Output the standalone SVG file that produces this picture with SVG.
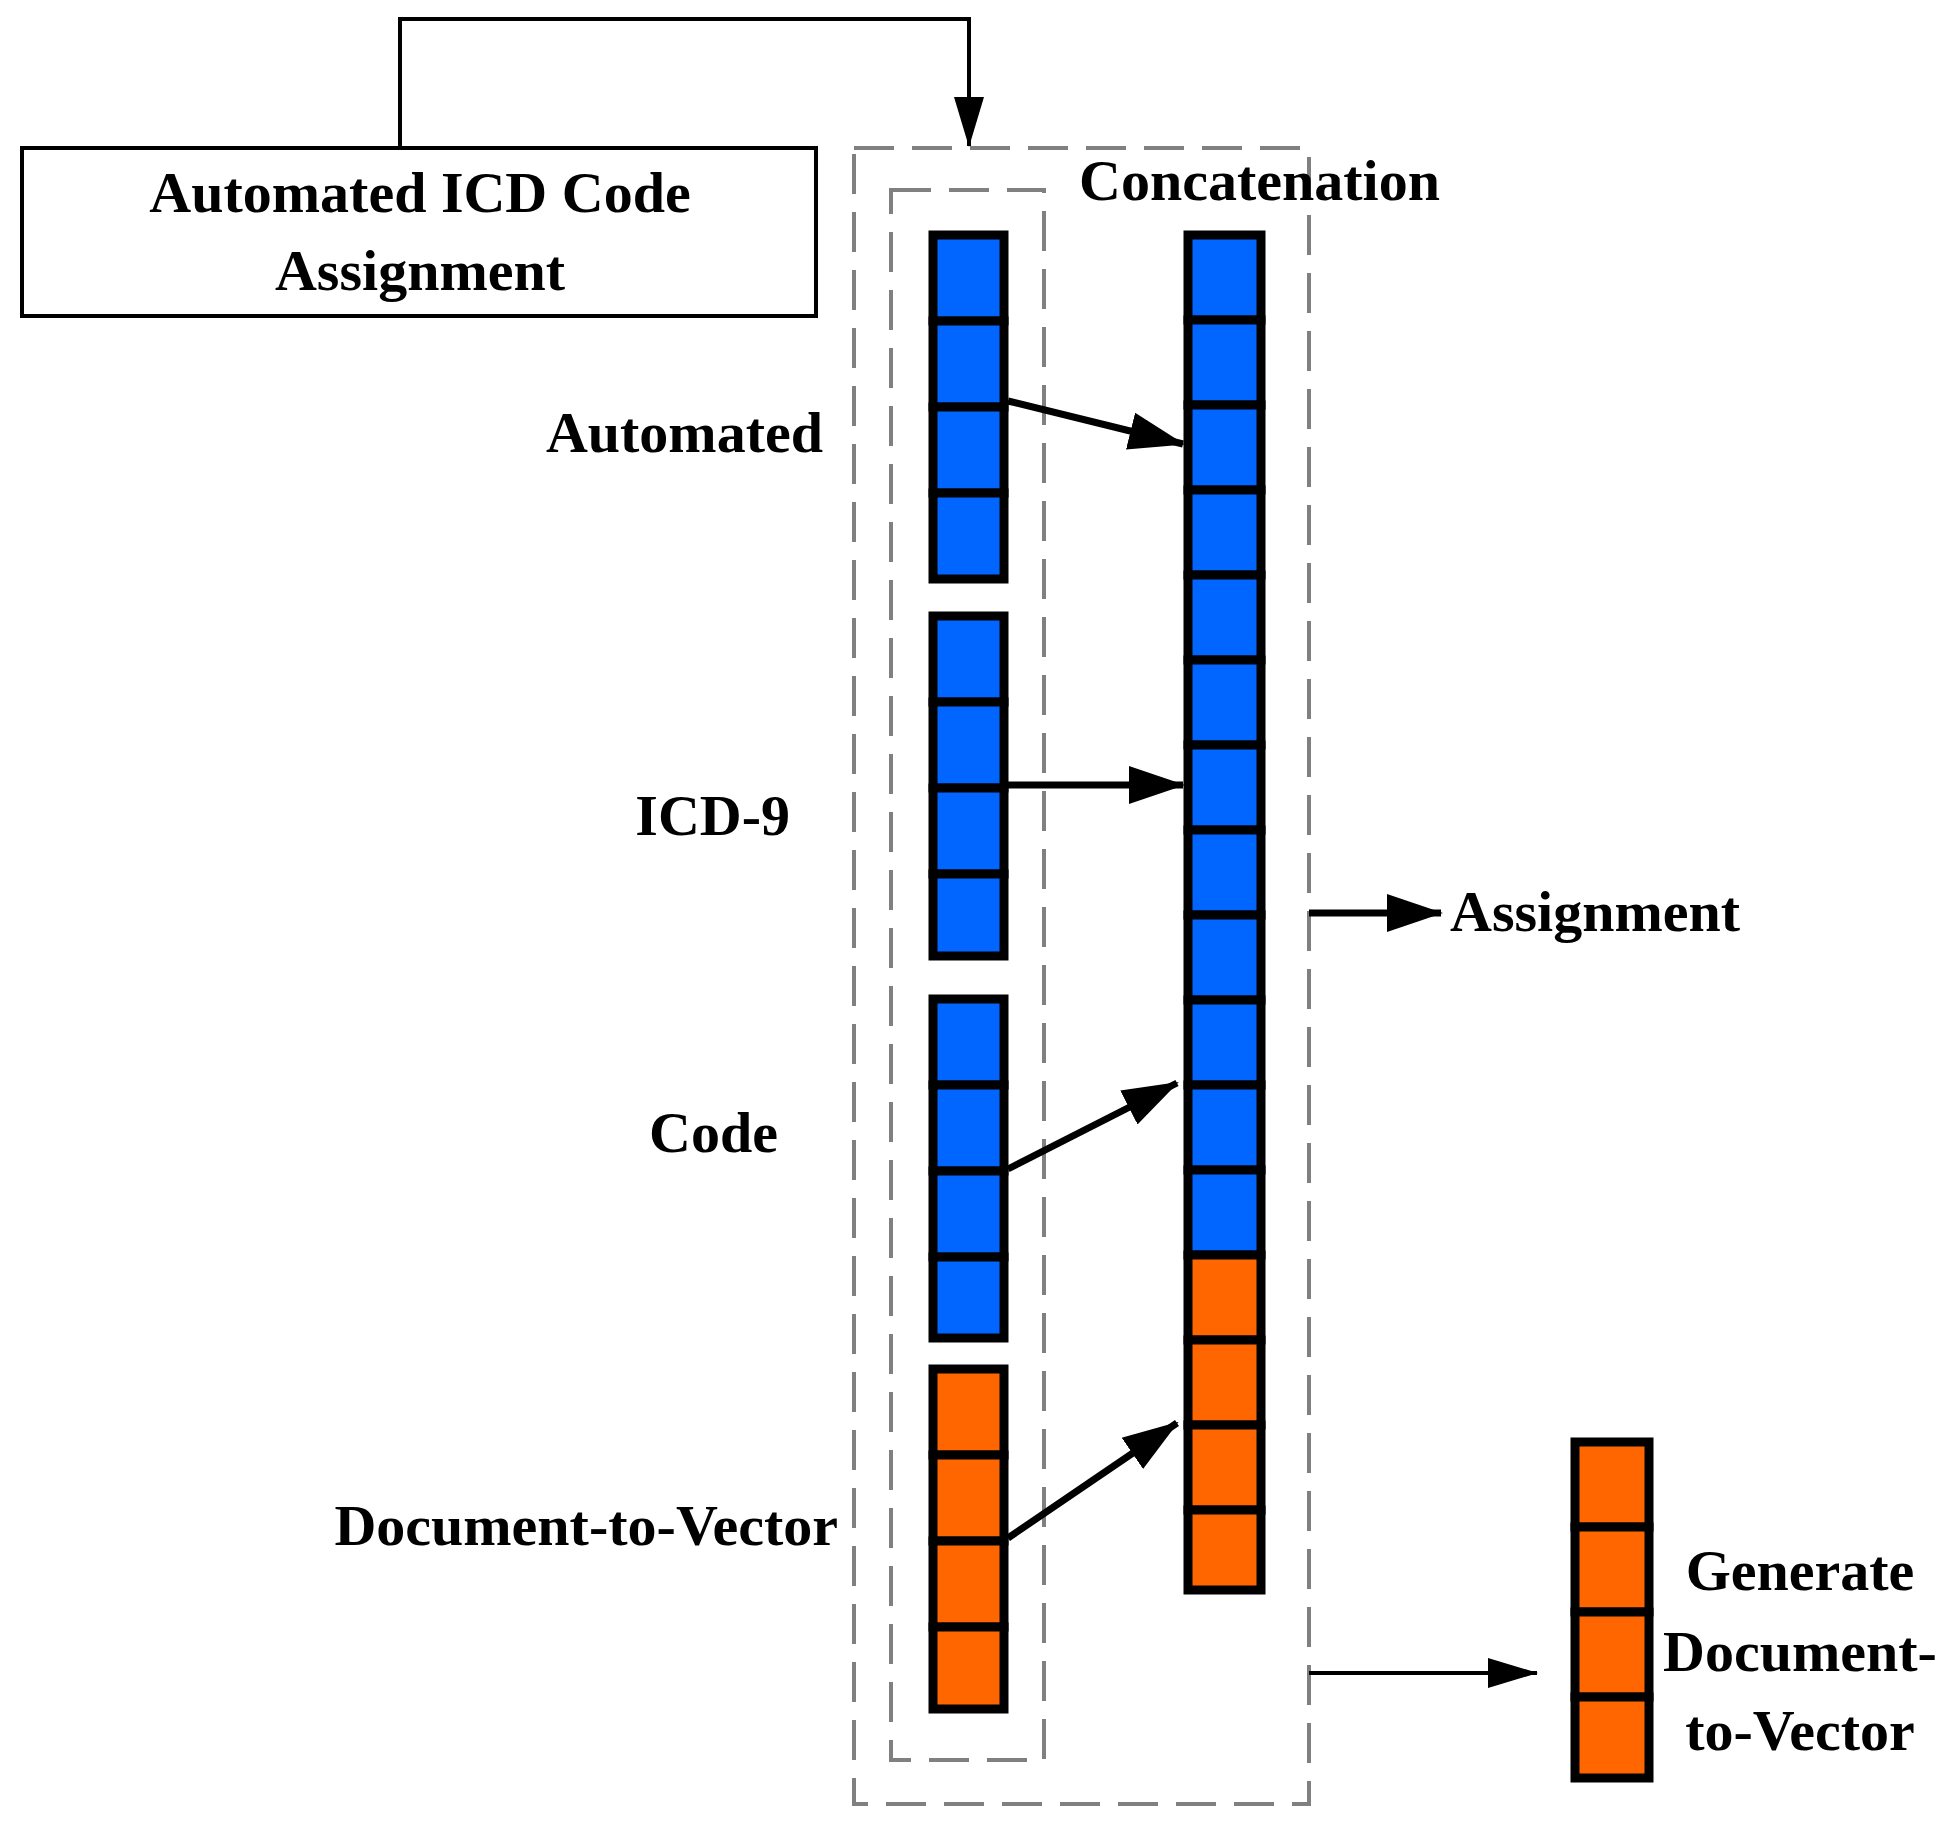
<svg xmlns="http://www.w3.org/2000/svg" width="1950" height="1822" viewBox="0 0 1950 1822">
<style>
text{font-family:"Liberation Serif","Times New Roman",serif;font-weight:bold;font-size:58px;fill:#000}
.dash{fill:none;stroke:#808080;stroke-width:4;stroke-dasharray:40,18}
.b{fill:#0066ff;stroke:#000;stroke-width:9}
.o{fill:#ff6600;stroke:#000;stroke-width:9}
.c{stroke:#000;stroke-width:7;fill:none}
.t{stroke:#000;stroke-width:4;fill:none}
</style>
<defs>
<marker id="ah" markerUnits="userSpaceOnUse" markerWidth="56" markerHeight="44" viewBox="0 0 56 44" refX="54" refY="22" orient="auto"><path d="M0,3 L56,22 L0,41 Z" fill="#000"/></marker>
<marker id="ahs" markerUnits="userSpaceOnUse" markerWidth="50" markerHeight="34" viewBox="0 0 50 34" refX="49" refY="17" orient="auto"><path d="M0,2 L50,17 L0,32 Z" fill="#000"/></marker>
</defs>
<g id="outer"><rect class="dash" x="854" y="148" width="455" height="1656"/></g>
<g id="inner"><rect class="dash" x="891" y="190" width="153" height="1570"/></g>
<g id="title-box"><rect x="22" y="148" width="794" height="168" fill="#fff" stroke="#000" stroke-width="4"/>
<text x="420" y="212" text-anchor="middle">Automated ICD Code</text>
<text x="420" y="290" text-anchor="middle">Assignment</text></g>
<g id="v-automated"><rect class="b" x="933" y="235" width="71" height="86"/><rect class="b" x="933" y="321" width="71" height="86"/><rect class="b" x="933" y="407" width="71" height="86"/><rect class="b" x="933" y="493" width="71" height="86"/>
<text x="823" y="452" text-anchor="end">Automated</text></g>
<g id="v-icd9"><rect class="b" x="933" y="616" width="71" height="86"/><rect class="b" x="933" y="702" width="71" height="86"/><rect class="b" x="933" y="788" width="71" height="86"/><rect class="b" x="933" y="874" width="71" height="82"/>
<text x="790" y="835" text-anchor="end">ICD-9</text></g>
<g id="v-code"><rect class="b" x="933" y="999" width="71" height="86"/><rect class="b" x="933" y="1085" width="71" height="86"/><rect class="b" x="933" y="1171" width="71" height="86"/><rect class="b" x="933" y="1257" width="71" height="81"/>
<text x="778" y="1152" text-anchor="end">Code</text></g>
<g id="v-doc"><rect class="o" x="933" y="1369" width="71" height="86"/><rect class="o" x="933" y="1455" width="71" height="86"/><rect class="o" x="933" y="1541" width="71" height="86"/><rect class="o" x="933" y="1627" width="71" height="82"/>
<text x="838" y="1545" text-anchor="end">Document-to-Vector</text></g>
<g id="concat"><text x="1079" y="200">Concatenation</text>
<rect class="b" x="1188" y="235" width="73" height="85"/><rect class="b" x="1188" y="320" width="73" height="85"/><rect class="b" x="1188" y="405" width="73" height="85"/><rect class="b" x="1188" y="490" width="73" height="85"/><rect class="b" x="1188" y="575" width="73" height="85"/><rect class="b" x="1188" y="660" width="73" height="85"/><rect class="b" x="1188" y="745" width="73" height="85"/><rect class="b" x="1188" y="830" width="73" height="85"/><rect class="b" x="1188" y="915" width="73" height="85"/><rect class="b" x="1188" y="1000" width="73" height="85"/><rect class="b" x="1188" y="1085" width="73" height="85"/><rect class="b" x="1188" y="1170" width="73" height="85"/>
<rect class="o" x="1188" y="1255" width="73" height="85"/><rect class="o" x="1188" y="1340" width="73" height="85"/><rect class="o" x="1188" y="1425" width="73" height="85"/><rect class="o" x="1188" y="1510" width="73" height="80"/></g>
<g id="assignment"><text x="1450" y="931">Assignment</text></g>
<g id="generate"><rect class="o" x="1575" y="1442" width="74" height="85"/><rect class="o" x="1575" y="1527" width="74" height="85"/><rect class="o" x="1575" y="1612" width="74" height="85"/><rect class="o" x="1575" y="1697" width="74" height="81"/>
<text x="1800" y="1590" text-anchor="middle">Generate</text><text x="1800" y="1671" text-anchor="middle">Document-</text><text x="1800" y="1750" text-anchor="middle">to-Vector</text></g>
<g id="connectors">
<path class="t" d="M400,148 V19 H969 V146" marker-end="url(#ahs)"/>
<line class="c" x1="1008" y1="401" x2="1183" y2="444" marker-end="url(#ah)"/>
<line class="c" x1="1008" y1="785" x2="1183" y2="785" marker-end="url(#ah)"/>
<line class="c" x1="1008" y1="1169" x2="1177" y2="1083" marker-end="url(#ah)"/>
<line class="c" x1="1008" y1="1538" x2="1177" y2="1423" marker-end="url(#ah)"/>
<line class="c" x1="1309" y1="913" x2="1441" y2="913" marker-end="url(#ah)"/>
<line class="t" x1="1309" y1="1673" x2="1537" y2="1673" marker-end="url(#ahs)"/>
</g>
</svg>
